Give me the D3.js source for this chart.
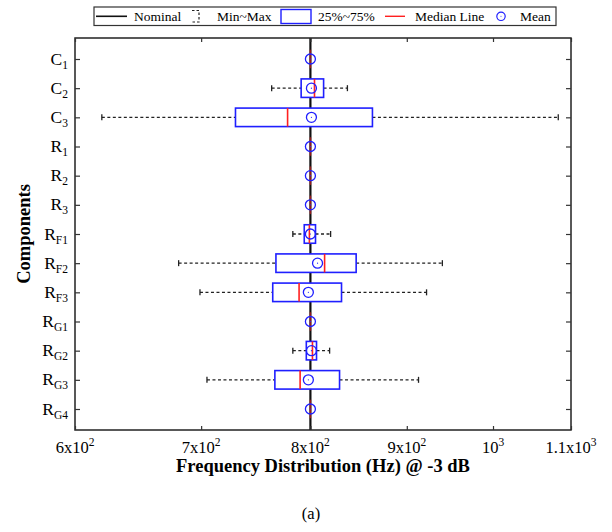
<!DOCTYPE html>
<html>
<head>
<meta charset="utf-8">
<script src="https://cdn.jsdelivr.net/npm/d3@7"></script>
<style>
  body { margin: 0; background: #fff; }
  svg { display: block; font-family: "Liberation Serif", "Times New Roman", serif; }
</style>
</head>
<body>
<svg id="chart" width="612" height="532"></svg>
<script>
// Components (base letter + subscript)
const catBase = ["C", "C", "C", "R", "R", "R", "R", "R", "R", "R", "R", "R", "R"];
const catSub = ["1", "2", "3", "1", "2", "3", "F1", "F2", "F3", "G1", "G2", "G3", "G4"];

// -3 dB frequency distribution per component (Hz)
const mins    = [800, 763, 620, 800, 800, 800, 783, 681, 699, 800, 783, 705, 800];
const q1s     = [800, 791, 730, 800, 800, 800, 794, 767, 764, 800, 796, 766, 800];
const medians = [800, 804, 778, 800, 800, 800, 799, 814, 789, 800, 802, 790, 800];
const q3s     = [800, 813, 863, 800, 800, 800, 805, 846, 831, 800, 806, 829, 800];
const maxs    = [800, 837, 1083, 800, 800, 800, 820, 940, 922, 800, 819, 913, 800];
const means   = [800, 801, 801, 800, 800, 800, 800, 807, 798, 800, 801, 798, 800];
const nominal = 800;

// x-axis ticks
const xTickValues = [600, 700, 800, 900, 1000, 1100];
const xTickBase = ["6x10", "7x10", "8x10", "9x10", "10", "1.1x10"];
const xTickExp = ["2", "2", "2", "2", "3", "3"];

const legendItems = ["Nominal", "Min~Max", "25%~75%", "Median Line", "Mean"];

const BLUE = "#1f1fff";
const RED = "#ff2020";

const svg = d3.select("#chart");
const plot = { left: 75, right: 571, top: 38, bottom: 430 };

const x = d3.scaleLog().domain([600, 1100]).range([plot.left, plot.right]);
const y = d3.scaleLinear().domain([0.28, 13.72]).range([plot.top, plot.bottom]);

const rows = catSub.map((s, i) => ({
    i: i + 1, min: mins[i], q1: q1s[i], med: medians[i], q3: q3s[i], max: maxs[i], mean: means[i]
}));

const boxH = 18.5;

// Nominal line
svg.append("line")
    .attr("x1", x(nominal)).attr("x2", x(nominal))
    .attr("y1", plot.top).attr("y2", plot.bottom)
    .attr("stroke", "#111").attr("stroke-width", 2.2);

const g = svg.append("g");

// whiskers
g.selectAll("line.wl").data(rows).join("line")
    .attr("x1", d => x(d.min)).attr("x2", d => x(d.q1))
    .attr("y1", d => y(d.i)).attr("y2", d => y(d.i))
    .attr("stroke", "#222").attr("stroke-width", 1.3).attr("stroke-dasharray", "3,2.5");
g.selectAll("line.wr").data(rows).join("line")
    .attr("x1", d => x(d.q3)).attr("x2", d => x(d.max))
    .attr("y1", d => y(d.i)).attr("y2", d => y(d.i))
    .attr("stroke", "#222").attr("stroke-width", 1.3).attr("stroke-dasharray", "3,2.5");

// whisker caps
["min", "max"].forEach(k => {
    g.selectAll("line.cap-" + k).data(rows.filter(d => d.min !== d.max)).join("line")
        .attr("x1", d => x(d[k])).attr("x2", d => x(d[k]))
        .attr("y1", d => y(d.i) - 3).attr("y2", d => y(d.i) + 3)
        .attr("stroke", "#222").attr("stroke-width", 1.3);
});

// boxes
g.selectAll("rect.box").data(rows.filter(d => d.q3 > d.q1)).join("rect")
    .attr("x", d => x(d.q1)).attr("width", d => x(d.q3) - x(d.q1))
    .attr("y", d => y(d.i) - boxH / 2).attr("height", boxH)
    .attr("fill", "#fff").attr("stroke", BLUE).attr("stroke-width", 1.6);

// medians
g.selectAll("line.med").data(rows).join("line")
    .attr("x1", d => x(d.med)).attr("x2", d => x(d.med))
    .attr("y1", d => y(d.i) - boxH / 2).attr("y2", d => y(d.i) + boxH / 2)
    .attr("stroke", RED).attr("stroke-width", 1.6)
    .attr("stroke-opacity", d => d.q3 > d.q1 ? 1 : 0.55);

// means
g.selectAll("circle.mean").data(rows).join("circle")
    .attr("cx", d => x(d.mean)).attr("cy", d => y(d.i)).attr("r", 5)
    .attr("fill", "none").attr("stroke", BLUE).attr("stroke-width", 1.3);
g.selectAll("circle.dot").data(rows).join("circle")
    .attr("cx", d => x(d.mean)).attr("cy", d => y(d.i)).attr("r", 0.6)
    .attr("fill", BLUE);

// frame
svg.append("rect")
    .attr("x", plot.left).attr("y", plot.top)
    .attr("width", plot.right - plot.left).attr("height", plot.bottom - plot.top)
    .attr("fill", "none").attr("stroke", "#222").attr("stroke-width", 1.5);

// x axes (ticks inside, top and bottom)
svg.append("g").attr("transform", `translate(0,${plot.bottom})`)
    .call(d3.axisBottom(x).tickValues(xTickValues).tickSize(-4).tickFormat(""));
svg.append("g").attr("transform", `translate(0,${plot.top})`)
    .call(d3.axisTop(x).tickValues(xTickValues).tickSize(-4).tickFormat(""));

xTickValues.forEach((v, i) => {
    const t = svg.append("text")
        .attr("x", x(v)).attr("y", 453)
        .attr("text-anchor", "middle")
        .attr("font-size", 16.5);
    t.append("tspan").text(xTickBase[i]);
    t.append("tspan").attr("dy", -7).attr("font-size", 11.5).text(xTickExp[i]);
});

// y axes (ticks inside, left and right)
const yTicks = rows.map(d => d.i);
svg.append("g").attr("transform", `translate(${plot.left},0)`)
    .call(d3.axisLeft(y).tickValues(yTicks).tickSize(-5).tickFormat(""));
svg.append("g").attr("transform", `translate(${plot.right},0)`)
    .call(d3.axisRight(y).tickValues(yTicks).tickSize(-5).tickFormat(""));
svg.selectAll(".domain").remove();
svg.selectAll(".tick line").attr("stroke", "#333").attr("stroke-width", 1.2);

yTicks.forEach((v, i) => {
    const t = svg.append("text")
        .attr("x", 68).attr("y", y(v) + 5.5)
        .attr("text-anchor", "end")
        .attr("font-size", 17.5);
    t.append("tspan").text(catBase[i]);
    t.append("tspan").attr("dy", 4).attr("font-size", 11.5).text(catSub[i]);
});

// axis titles
svg.append("text")
    .attr("x", (plot.left + plot.right) / 2).attr("y", 472)
    .attr("text-anchor", "middle").attr("font-size", 18.5).attr("font-weight", "bold")
    .text("Frequency Distribution (Hz) @ -3 dB");
svg.append("text")
    .attr("transform", `translate(30,${(plot.top + plot.bottom) / 2}) rotate(-90)`)
    .attr("text-anchor", "middle").attr("font-size", 18.5).attr("font-weight", "bold")
    .text("Components");

svg.append("text")
    .attr("x", 311).attr("y", 519)
    .attr("text-anchor", "middle").attr("font-size", 16.5)
    .text("(a)");

// legend
const lg = svg.append("g");
lg.append("rect").attr("x", 94).attr("y", 7).attr("width", 462).attr("height", 18.5)
    .attr("fill", "#fff").attr("stroke", "#333").attr("stroke-width", 1.2);
const ly = 16.3;
lg.append("line").attr("x1", 96).attr("x2", 127).attr("y1", ly).attr("y2", ly)
    .attr("stroke", "#111").attr("stroke-width", 1.6);
// min~max glyph: dashed bracket
lg.append("path")
    .attr("d", "M192,10.5 H199 V22 H192")
    .attr("fill", "none").attr("stroke", "#222").attr("stroke-width", 1.2)
    .attr("stroke-dasharray", "2.5,2");
lg.append("rect").attr("x", 281).attr("y", 9.5).attr("width", 30).attr("height", 14)
    .attr("fill", "#fff").attr("stroke", BLUE).attr("stroke-width", 1.4);
lg.append("line").attr("x1", 385).attr("x2", 405).attr("y1", ly).attr("y2", ly)
    .attr("stroke", RED).attr("stroke-width", 1.4);
lg.append("circle").attr("cx", 501).attr("cy", ly).attr("r", 4.2)
    .attr("fill", "none").attr("stroke", BLUE).attr("stroke-width", 1.2);
lg.append("circle").attr("cx", 501).attr("cy", ly).attr("r", 0.5).attr("fill", BLUE);

const lx = [134, 217, 318, 415, 520];
legendItems.forEach((s, i) => {
    lg.append("text").attr("x", lx[i]).attr("y", 21)
        .attr("font-size", 13.5).text(s);
});
</script>
</body>
</html>
